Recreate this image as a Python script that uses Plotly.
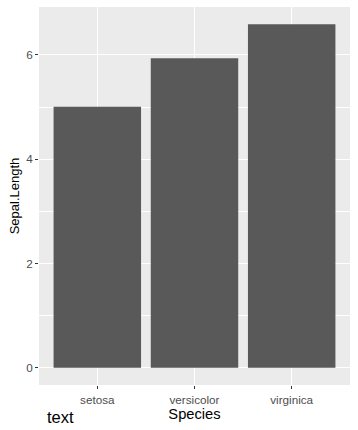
import plotly.graph_objects as go

species = ["setosa", "versicolor", "virginica"]
sepal_length = [5.006, 5.936, 6.588]
y_ticks = [0, 2, 4, 6]

W, H = 358, 430
ml, mr, mt, mb = 39, 8, 7, 45
pw = W - ml - mr
ph = H - mt - mb

ymax = max(sepal_length)
pad = ymax * 0.05

fig = go.Figure()
fig.add_trace(go.Bar(
    x=list(range(len(species))), y=sepal_length,
    marker=dict(color="#595959", line=dict(width=0)),
    width=0.9,
))

fig.update_layout(
    width=W, height=H,
    margin=dict(l=ml, r=mr, t=mt, b=mb, pad=0, autoexpand=False),
    paper_bgcolor="white",
    plot_bgcolor="#EBEBEB",
    showlegend=False,
    font=dict(family="Liberation Sans, Arial, sans-serif", color="black"),
    xaxis=dict(
        automargin=False,
        range=[-0.6, len(species) - 0.4],
        tickvals=list(range(len(species))),
        ticktext=species,
        showgrid=True, gridcolor="white", gridwidth=1.1,
        zeroline=False, showline=False,
        ticks="outside", ticklen=3, tickwidth=1, tickcolor="#333333",
        ticklabelstandoff=1,
        tickfont=dict(size=11.7, color="#4D4D4D"),
        title=dict(text="Species", font=dict(size=14.7, color="black"), standoff=2),
    ),
    yaxis=dict(
        automargin=False,
        range=[-pad, ymax + pad],
        tickvals=y_ticks,
        showgrid=True, gridcolor="white", gridwidth=1.1,
        minor=dict(tick0=1, dtick=2, showgrid=True, gridcolor="white", gridwidth=0.55, ticks=""),
        zeroline=False, showline=False,
        ticks="outside", ticklen=3, tickwidth=1, tickcolor="#333333",
        tickfont=dict(size=11.7, color="#4D4D4D"),
        title=dict(text="Sepal.Length", font=dict(size=13, color="black"), standoff=3),
    ),
    annotations=[dict(
        text="text", xref="paper", yref="paper",
        x=6 / pw, y=-(417 - (H - mb)) / ph,
        xanchor="left", yanchor="middle", showarrow=False,
        font=dict(size=16.5, color="black"),
    )],
)

fig.write_html(
    "out.html",
    config={"displayModeBar": False},
    post_script="document.body.style.margin='0';document.body.style.overflow='hidden';",
)
